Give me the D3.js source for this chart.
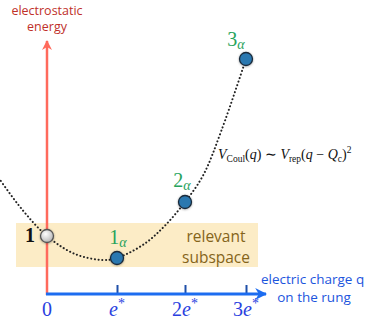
<!DOCTYPE html>
<html>
<head>
<meta charset="utf-8">
<script src="https://cdn.jsdelivr.net/npm/d3@7"></script>
<style>
  body { margin: 0; background: #fff; }
  svg { display: block; }
</style>
</head>
<body>
<div id="chart"></div>
<script>
///// data

// charge states on the x axis (in units of e*)
var chargeSteps = [0, 1, 2, 3];
// tick labels: 0, e*, 2e*, 3e*
var tickLabels = [{pre: "0", e: false}, {pre: "", e: true}, {pre: "2", e: true}, {pre: "3", e: true}];

// electrostatic energy of the marked states (arbitrary units)
var stateNames = ["1", "1", "2", "3"];
var stateEnergy = [58, 36, 92, 235];

// dotted curve, sampled along the drawn line
var curveQ = [-0.72, -0.35, 0, 0.4, 0.8, 1, 1.4, 1.7, 2, 2.3, 2.6, 3];
var curveE = [119, 84, 58, 40, 34, 36, 50, 68, 92, 119, 164, 235];

// shaded band (energy range)
var bandE = [27, 71];

///// layout

var width = 374, height = 322;

var svg = d3.select("#chart").append("svg")
    .attr("width", width)
    .attr("height", height);

// x positions of the ticks are not evenly spaced in the drawing
var x = d3.scaleLinear().domain(chargeSteps).range([47, 117, 185, 246]);
var y = d3.scaleLinear().domain([0, 250]).range([294, 44]);

var defs = svg.append("defs");

defs.append("marker").attr("id", "arrRed")
    .attr("viewBox", "0 0 10 10").attr("refX", 9).attr("refY", 5)
    .attr("markerWidth", 4).attr("markerHeight", 4)
    .attr("markerUnits", "strokeWidth").attr("orient", "auto")
  .append("path").attr("d", "M0,0 L10,5 L0,10 L3,5 Z").attr("fill", "#ff6a5c");

defs.append("marker").attr("id", "arrBlue")
    .attr("viewBox", "0 0 10 10").attr("refX", 9).attr("refY", 5)
    .attr("markerWidth", 4).attr("markerHeight", 4)
    .attr("markerUnits", "strokeWidth").attr("orient", "auto")
  .append("path").attr("d", "M0,0 L10,5 L0,10 L3,5 Z").attr("fill", "#1c6cf0");

var grad = defs.append("radialGradient").attr("id", "greyBall")
    .attr("cx", "40%").attr("cy", "35%").attr("r", "65%");
grad.append("stop").attr("offset", "0%").attr("stop-color", "#ffffff");
grad.append("stop").attr("offset", "100%").attr("stop-color", "#b8b8b8");

var shadow = defs.append("filter").attr("id", "shadow")
    .attr("x", "-50%").attr("y", "-50%").attr("width", "200%").attr("height", "200%");
shadow.append("feDropShadow").attr("dx", 0).attr("dy", 0.5)
    .attr("stdDeviation", 0.8).attr("flood-color", "#000").attr("flood-opacity", 0.35);

// relevant subspace band
svg.append("rect")
    .attr("x", 16).attr("width", 242)
    .attr("y", y(bandE[1])).attr("height", y(bandE[0]) - y(bandE[1]))
    .attr("fill", "#fcecc6");

svg.append("text").attr("x", 216).attr("y", 242)
    .attr("text-anchor", "middle")
    .style("font", "15.5px 'Open Sans', sans-serif")
    .attr("fill", "#84641a").text("relevant");
svg.append("text").attr("x", 216).attr("y", 263)
    .attr("text-anchor", "middle")
    .style("font", "15.5px 'Open Sans', sans-serif")
    .attr("fill", "#84641a").text("subspace");

// y axis (energy)
svg.append("line")
    .attr("x1", x(0)).attr("x2", x(0))
    .attr("y1", y(0) + 1).attr("y2", 41)
    .attr("stroke", "#ff6a5c").attr("stroke-width", 2.5)
    .attr("marker-end", "url(#arrRed)");

// x axis (charge)
var xAxis = d3.axisBottom(x)
    .tickValues(chargeSteps.slice(1))
    .tickSizeInner(-9)
    .tickSizeOuter(0)
    .tickFormat("");

var gx = svg.append("g")
    .attr("transform", "translate(0," + y(0) + ")")
    .call(xAxis);
gx.select(".domain").remove();
gx.selectAll(".tick line")
    .attr("stroke", "#1f4fa8").attr("stroke-width", 2);

svg.append("line")
    .attr("x1", x(0) - 1).attr("x2", 266)
    .attr("y1", y(0)).attr("y2", y(0))
    .attr("stroke", "#1c6cf0").attr("stroke-width", 3)
    .attr("marker-end", "url(#arrBlue)");

var tl = svg.selectAll(".tl").data(chargeSteps).enter().append("text")
    .attr("class", "tl")
    .attr("x", function(d) { return x(d); })
    .attr("y", 316)
    .attr("text-anchor", "middle")
    .style("font", "20px 'Liberation Serif', serif")
    .attr("fill", "#2a3fe0");
tl.append("tspan").text(function(d, i) { return tickLabels[i].pre; });
tl.filter(function(d, i) { return tickLabels[i].e; })
  .append("tspan").style("font-style", "italic").text("e");
tl.filter(function(d, i) { return tickLabels[i].e; })
  .append("tspan").attr("dy", -8).style("font-size", "14px").text("*");

// axis titles
svg.append("text").attr("x", 47).attr("y", 15)
    .attr("text-anchor", "middle")
    .style("font", "12.5px 'Open Sans', sans-serif")
    .attr("fill", "#c0302a").text("electrostatic");
svg.append("text").attr("x", 47).attr("y", 31)
    .attr("text-anchor", "middle")
    .style("font", "12.5px 'Open Sans', sans-serif")
    .attr("fill", "#c0302a").text("energy");

svg.append("text").attr("x", 261).attr("y", 284)
    .style("font", "13.5px 'Open Sans', sans-serif")
    .attr("fill", "#1c55dd").text("electric charge q");
svg.append("text").attr("x", 314).attr("y", 302)
    .attr("text-anchor", "middle")
    .style("font", "13.5px 'Open Sans', sans-serif")
    .attr("fill", "#1c55dd").text("on the rung");

// dotted energy curve
var line = d3.line()
    .x(function(d) { return x(d[0]); })
    .y(function(d) { return y(d[1]); })
    .curve(d3.curveCatmullRom);

svg.append("path")
    .datum(d3.zip(curveQ, curveE))
    .attr("d", line)
    .attr("fill", "none")
    .attr("stroke", "#222")
    .attr("stroke-width", 2)
    .attr("stroke-linecap", "round")
    .attr("stroke-dasharray", "0.1 3.6");

// formula
var f = svg.append("text").attr("x", 218).attr("y", 159)
    .style("font", "14px 'Liberation Serif', serif")
    .attr("fill", "#111");
f.append("tspan").style("font-style", "italic").text("V");
f.append("tspan").attr("dy", 3).style("font-size", "9.5px").text("Coul");
f.append("tspan").attr("dy", -3).text("(");
f.append("tspan").style("font-style", "italic").text("q");
f.append("tspan").text(") \u223C ");
f.append("tspan").style("font-style", "italic").text("V");
f.append("tspan").attr("dy", 3).style("font-size", "9.5px").text("rep");
f.append("tspan").attr("dy", -3).text("(");
f.append("tspan").style("font-style", "italic").text("q");
f.append("tspan").text(" \u2212 ");
f.append("tspan").style("font-style", "italic").text("Q");
f.append("tspan").attr("dy", 3).style("font-size", "9.5px").text("c");
f.append("tspan").attr("dy", -3).text(")");
f.append("tspan").attr("dy", -6).style("font-size", "9.5px").text("2");

// state points
svg.selectAll(".pt").data(chargeSteps).enter().append("circle")
    .attr("class", "pt")
    .attr("cx", function(d) { return x(d); })
    .attr("cy", function(d, i) { return y(stateEnergy[i]); })
    .attr("r", 6.5)
    .attr("fill", function(d) { return d === 0 ? "url(#greyBall)" : "#2b78b0"; })
    .attr("stroke", function(d) { return d === 0 ? "#555" : "#1a2a3a"; })
    .attr("stroke-width", 1.3)
    .attr("filter", "url(#shadow)");

// state labels
var labelDx = [-17, 1, -3, -10];
var labelDy = [6, -14, -15, -13];

var sl = svg.selectAll(".sl").data(chargeSteps).enter().append("text")
    .attr("class", "sl")
    .attr("x", function(d, i) { return x(d) + labelDx[i]; })
    .attr("y", function(d, i) { return y(stateEnergy[i]) + labelDy[i]; })
    .attr("text-anchor", "middle")
    .style("font", "20px 'Liberation Serif', serif")
    .style("font-weight", function(d) { return d === 0 ? "bold" : "normal"; })
    .attr("fill", function(d) { return d === 0 ? "#111" : "#27a35c"; });
sl.append("tspan").text(function(d, i) { return stateNames[i]; });
sl.filter(function(d) { return d > 0; })
  .append("tspan").attr("dy", 3).style("font-size", "14px")
  .style("font-style", "italic").text("\u03B1");
</script>
</body>
</html>
